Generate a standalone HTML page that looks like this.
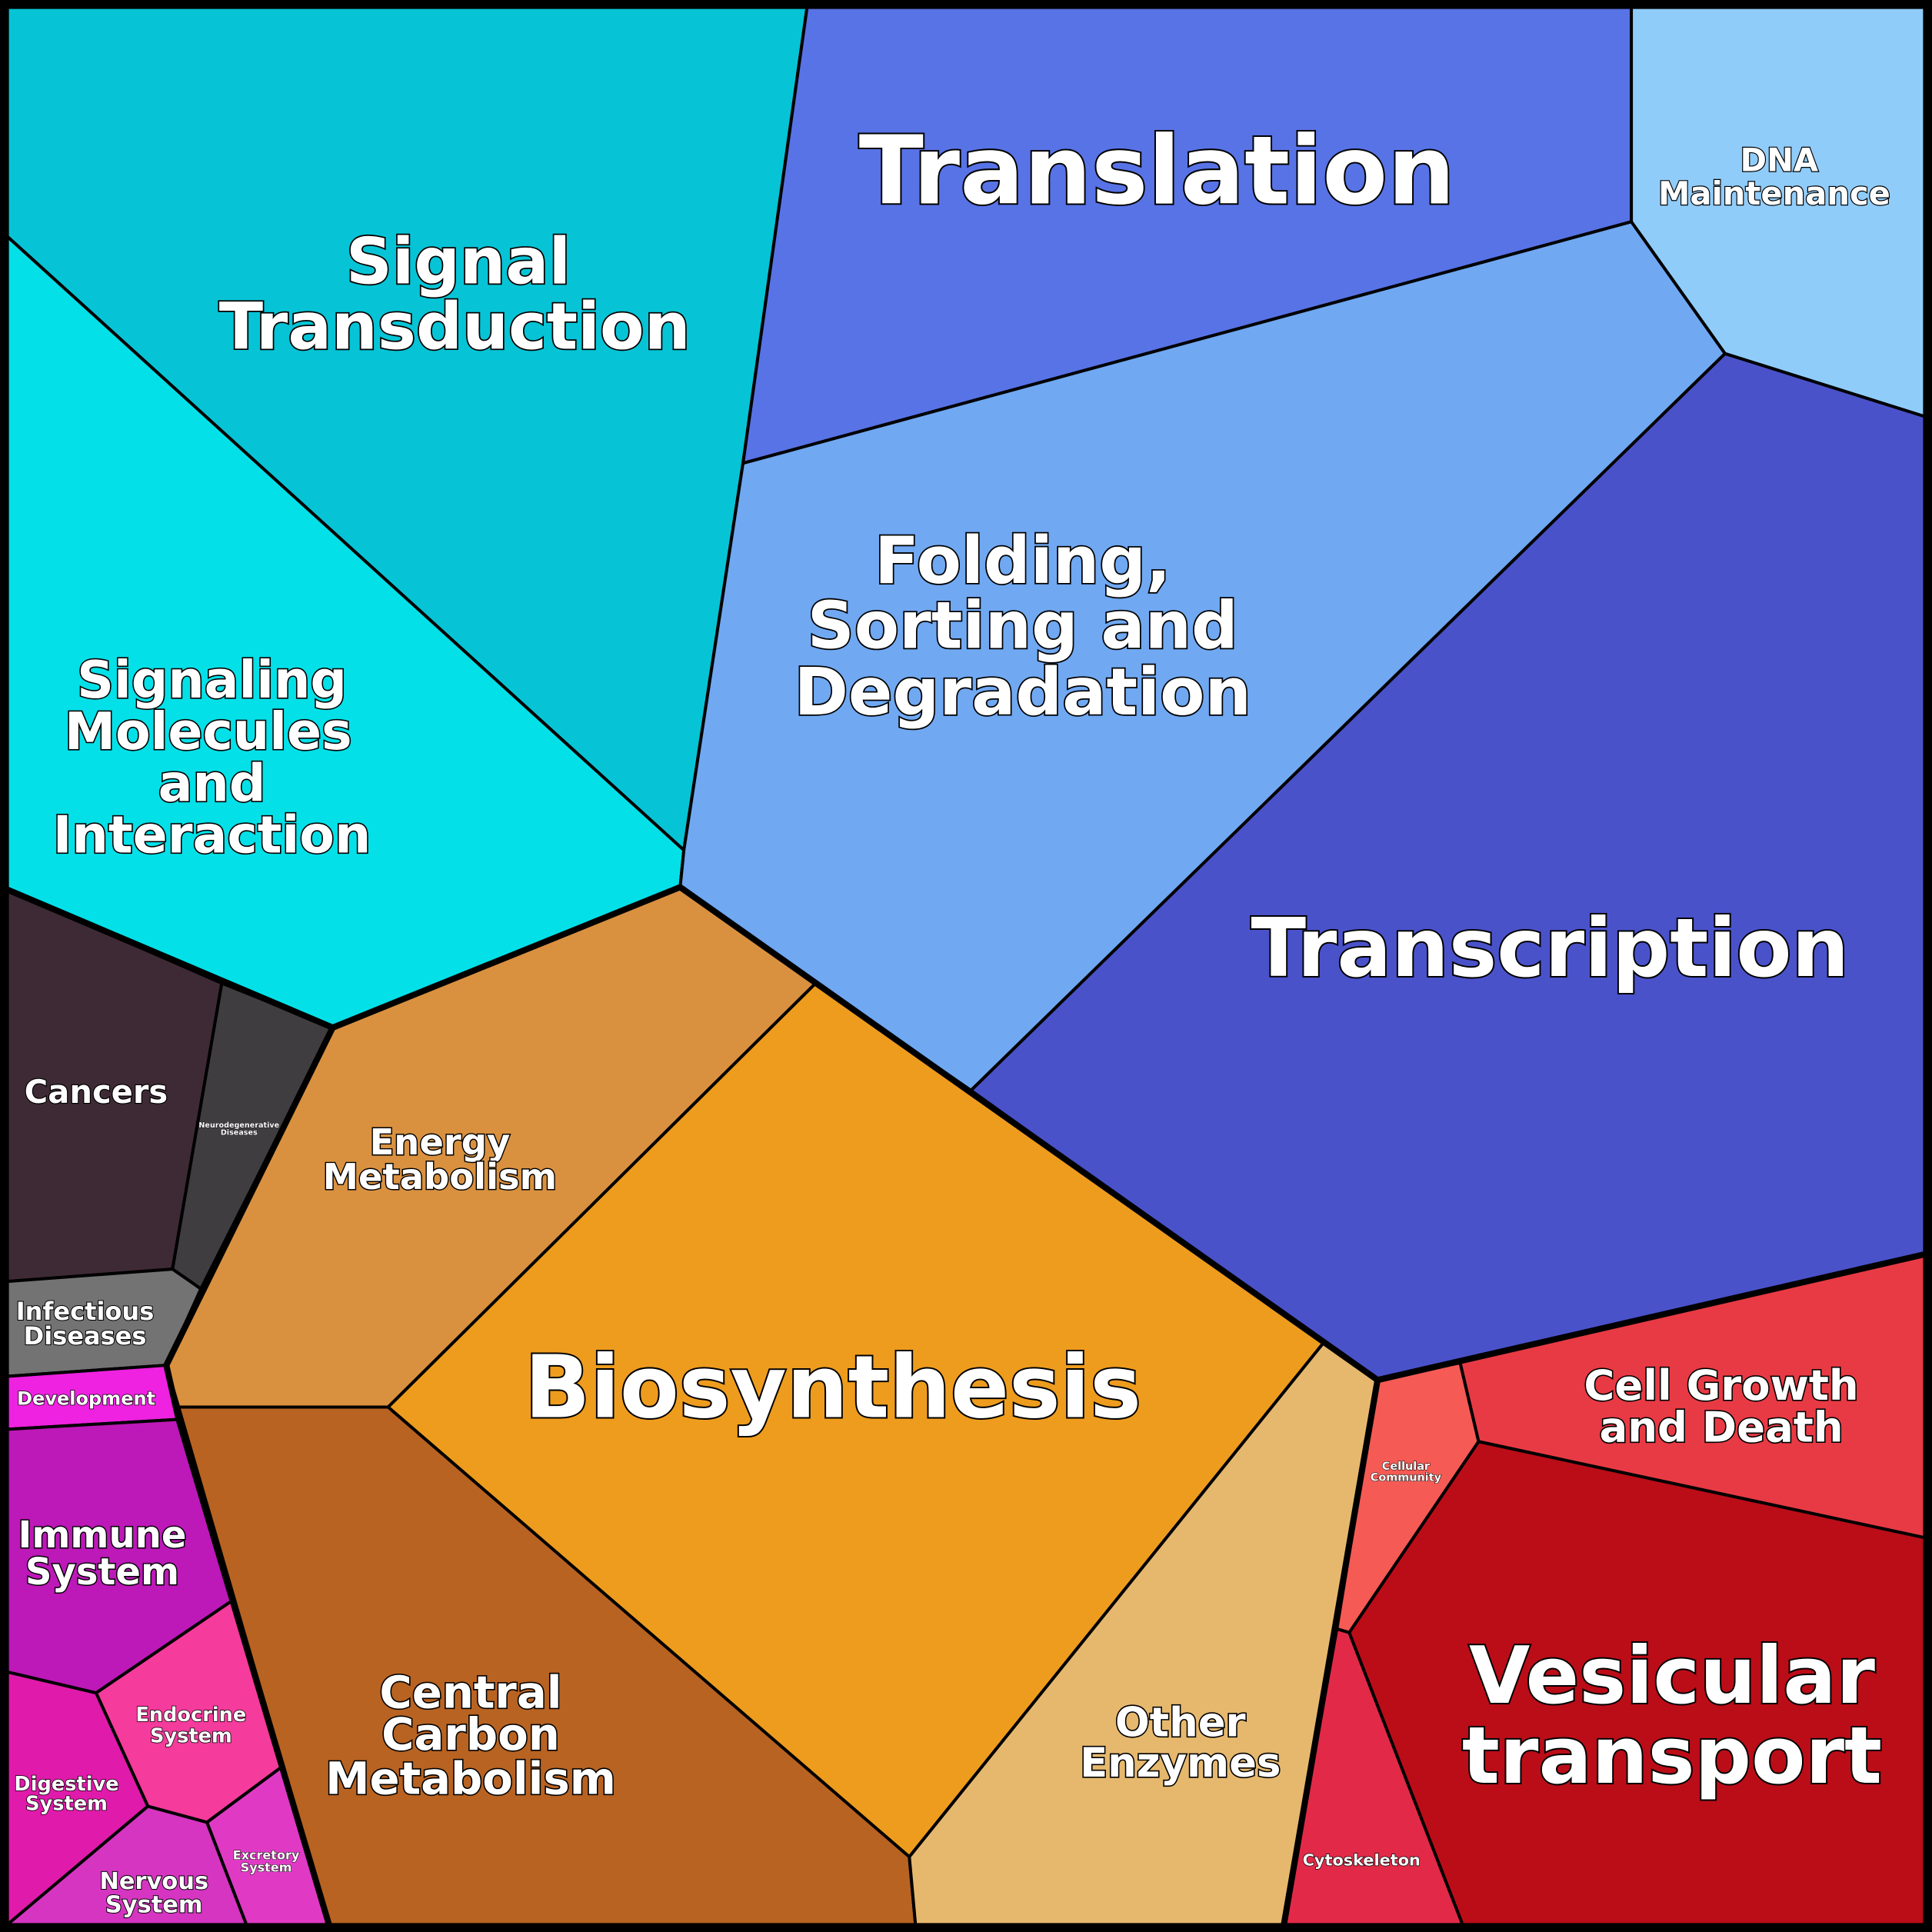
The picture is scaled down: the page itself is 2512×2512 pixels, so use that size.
<!DOCTYPE html>
<html><head><meta charset="utf-8"><style>
html,body{margin:0;padding:0;background:#000}
svg{display:block}
text{font-family:"DejaVu Sans","Liberation Sans",sans-serif;font-weight:bold;fill:#fff;stroke:#000;paint-order:stroke;text-anchor:middle}
</style></head><body>
<svg width="2512" height="2512" viewBox="0 0 1568 1568" xmlns="http://www.w3.org/2000/svg">
<rect width="1568" height="1568" fill="#000"/>
<g stroke="#000" stroke-width="2.5" stroke-linejoin="round">
<polygon fill="#06c4d6" points="6,6 655,6 603,376 555,690 6,192"/>
<polygon fill="#04e0e8" points="6,192 555,690 552,720 270,834 180,798 6,722"/>
<polygon fill="#5873e6" points="655,6 1324,6 1324,180 603,376"/>
<polygon fill="#90ccfa" points="1324,6 1562,6 1562,338 1400,287 1324,180"/>
<polygon fill="#70a8f2" points="603,376 1324,180 1400,287 788,885 662,798 552,720 555,690"/>
<polygon fill="#4a52ca" points="1400,287 1562,338 1562,1018 1118,1120 1074,1090 788,885"/>
<polygon fill="#d99140" points="552,720 662,798 315,1142 145,1142 135,1108 163,1046 270,834"/>
<polygon fill="#ee9c1e" points="662,798 788,885 1074,1090 738,1507 315,1142"/>
<polygon fill="#b86322" points="145,1142 315,1142 738,1507 743,1562 267,1562"/>
<polygon fill="#e6b86e" points="1074,1090 1118,1120 1042,1562 743,1562 738,1507"/>
<polygon fill="#3e2a35" points="6,722 180,798 140,1030 6,1040"/>
<polygon fill="#403d40" points="180,798 270,834 163,1046 140,1030"/>
<polygon fill="#737373" points="6,1040 140,1030 163,1046 135,1108 6,1117"/>
<polygon fill="#ee22e0" points="6,1117 135,1108 145,1152 6,1160"/>
<polygon fill="#bd18b8" points="6,1160 145,1152 190,1298 78,1374 6,1357"/>
<polygon fill="#f53b9c" points="78,1374 190,1298 230,1433 168,1479 120,1466"/>
<polygon fill="#e01aab" points="6,1357 78,1374 120,1466 6,1562"/>
<polygon fill="#d535c0" points="6,1562 120,1466 168,1479 200,1562"/>
<polygon fill="#e03ac5" points="168,1479 230,1433 267,1562 200,1562"/>
<polygon fill="#e83a44" points="1118,1120 1562,1018 1562,1248 1200,1170 1185,1106"/>
<polygon fill="#f55a55" points="1118,1120 1185,1106 1200,1170 1095,1325 1085,1322"/>
<polygon fill="#bb0d18" points="1200,1170 1562,1248 1562,1562 1187,1562 1095,1325"/>
<polygon fill="#e22a48" points="1085,1322 1095,1325 1187,1562 1042,1562"/>
</g>
<g fill="none" stroke="#000" stroke-width="5" stroke-linejoin="round">
<polyline points="6,722 270,834 552,720 1118,1120 1562,1018"/>
<polyline points="270,834 135,1108 145,1152 267,1562"/>
<polyline points="1118,1120 1042,1562"/>
<rect x="3" y="3" width="1562" height="1562" stroke-width="7"/>
</g>
<text x="939" y="165" font-size="77" stroke-width="2.5">Translation</text>
<text x="1258" y="792" font-size="65.5" stroke-width="2.5">Transcription</text>
<text x="676" y="1150" font-size="70" stroke-width="2.5">Biosynthesis</text>
<text x="1357" y="1382" font-size="64" stroke-width="2.5">Vesicular</text>
<text x="1357" y="1447" font-size="64" stroke-width="2.5">transport</text>
<text x="372" y="230" font-size="52" stroke-width="2.2">Signal</text>
<text x="369" y="283" font-size="52.5" stroke-width="2.2">Transduction</text>
<text x="830" y="473" font-size="53" stroke-width="2.2">Folding,</text>
<text x="830" y="526" font-size="53" stroke-width="2.2">Sorting and</text>
<text x="830" y="580" font-size="53" stroke-width="2.2">Degradation</text>
<text x="172" y="566" font-size="41.5" stroke-width="2">Signaling</text>
<text x="169" y="608" font-size="41.5" stroke-width="2">Molecules</text>
<text x="172" y="650" font-size="41.5" stroke-width="2">and</text>
<text x="172" y="692" font-size="41.5" stroke-width="2">Interaction</text>
<text x="1397" y="1136" font-size="34" stroke-width="2">Cell Growth</text>
<text x="1397" y="1170" font-size="34" stroke-width="2">and Death</text>
<text x="382" y="1386" font-size="36" stroke-width="2">Central</text>
<text x="382" y="1420" font-size="36" stroke-width="2">Carbon</text>
<text x="382" y="1456" font-size="36" stroke-width="2">Metabolism</text>
<text x="958" y="1409" font-size="33" stroke-width="2">Other</text>
<text x="958" y="1442" font-size="33" stroke-width="2">Enzymes</text>
<text x="357" y="937" font-size="29" stroke-width="1.8">Energy</text>
<text x="357" y="965" font-size="29" stroke-width="1.8">Metabolism</text>
<text x="1444" y="139" font-size="26" stroke-width="1.5">DNA</text>
<text x="1440" y="166" font-size="26" stroke-width="1.5">Maintenance</text>
<text x="78" y="895" font-size="26" stroke-width="1.5">Cancers</text>
<text x="83" y="1256" font-size="30" stroke-width="1.8">Immune</text>
<text x="83" y="1286" font-size="30" stroke-width="1.8">System</text>
<text x="69" y="1071" font-size="20" stroke-width="1.3">Infectious</text>
<text x="69" y="1091" font-size="20" stroke-width="1.3">Diseases</text>
<text x="70" y="1140" font-size="15" stroke-width="1">Development</text>
<text x="155" y="1397" font-size="16" stroke-width="1">Endocrine</text>
<text x="155" y="1414" font-size="16" stroke-width="1">System</text>
<text x="54" y="1453" font-size="16" stroke-width="1">Digestive</text>
<text x="54" y="1469" font-size="16" stroke-width="1">System</text>
<text x="125" y="1533" font-size="19" stroke-width="1.2">Nervous</text>
<text x="125" y="1552" font-size="19" stroke-width="1.2">System</text>
<text x="216" y="1509" font-size="10" stroke-width="0.7">Excretory</text>
<text x="216" y="1519" font-size="10" stroke-width="0.7">System</text>
<text x="1105" y="1514" font-size="13" stroke-width="0.9">Cytoskeleton</text>
<text x="1141" y="1193" font-size="9" stroke-width="0.7">Cellular</text>
<text x="1141" y="1202" font-size="9" stroke-width="0.7">Community</text>
<text x="194" y="915" font-size="6" stroke-width="0.4">Neurodegenerative</text>
<text x="194" y="921" font-size="6" stroke-width="0.4">Diseases</text>
</svg>
</body></html>
